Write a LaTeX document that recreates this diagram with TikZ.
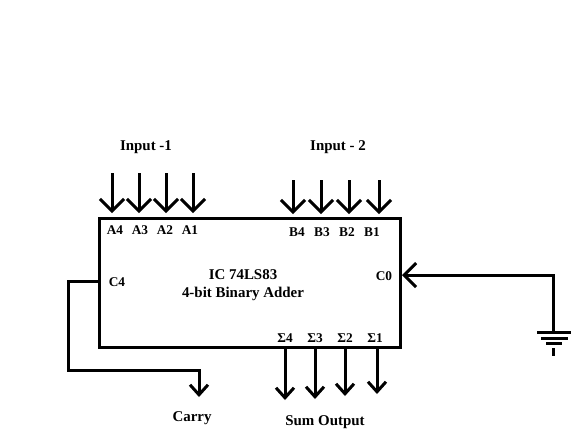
\documentclass[tikz,border=0pt]{standalone}
\usepackage{fontspec}
\setmainfont{Liberation Serif}
\usetikzlibrary{arrows.meta, positioning}
\tikzset{
  icbox/.style={
    rectangle, draw=black, line width=2.25pt, inner sep=0pt,
    minimum width=225.75pt, minimum height=96.75pt
  },
  plabel/.style={font=\fontsize{10}{11}\selectfont\bfseries, inner sep=0pt},
  tlabel/.style={font=\fontsize{11.2}{13.5}\selectfont\bfseries, inner sep=0pt, align=center},
  wire/.style={line width=2.25pt, line cap=rect},
  arr/.style={-{Straight Barb[length=9pt, width=18pt, line width=2.25pt]}, line width=2.25pt},
  sarr/.style={-{Straight Barb[length=7.5pt, width=13.5pt, line width=2.25pt]}, line width=2.25pt},
}
\begin{document}
\begin{tikzpicture}[x=0.75pt, y=-0.75pt]
    \useasboundingbox (0,0) rectangle (579,429);
    \node[icbox] (ic) at (249.5,282.5) {};
    \node[tlabel] (title) at (243,285.5) {IC 74LS83\\4-bit Binary Adder};

    \node[tlabel] (in1) at (146,147) {Input -1};
    \node[tlabel] (in2) at (338,147) {Input - 2};
    \node[tlabel] (carry) at (192,418) {Carry};
    \node[tlabel] (sum) at (325,422) {Sum Output};

    \foreach \n/\px/\lx in {A4/112/115, A3/139/140, A2/166/165, A1/193/190} {
      \node[plabel] (l\n) at (\lx,230) {\n};
      \coordinate (s\n) at (\px,173);
      \coordinate (e\n) at (\px,213);
      \draw[arr] (s\n) -- (e\n);
    }
    \foreach \n/\px/\lx in {B4/293/297, B3/321/322, B2/349/347, B1/379/372} {
      \node[plabel] (l\n) at (\lx,232) {\n};
      \coordinate (s\n) at (\px,180);
      \coordinate (e\n) at (\px,214);
      \draw[arr] (s\n) -- (e\n);
    }
    \foreach \n/\px/\lx/\py in {4/285/285/400, 3/315/315/399, 2/345/345/396, 1/377/375/394} {
      \node[plabel] (lS\n) at (\lx,338) {Σ\n};
      \coordinate (sS\n) at (\px,348);
      \coordinate (eS\n) at (\px,\py);
      \draw[sarr] (sS\n) -- (eS\n);
    }

    \node[plabel] (lc4) at (117,282) {C4};
    \node[plabel] (lc0) at (384,276) {C0};

    \coordinate (c4pin) at (99,281);
    \coordinate (c4a) at (68,281);
    \coordinate (c4b) at (68,370);
    \coordinate (c4c) at (199,370);
    \coordinate (c4end) at (199,397);
    \draw[wire] (c4pin) -- (c4a) -- (c4b) -- (c4c);
    \draw[sarr] (c4c) -- (c4end);

    \coordinate (gnd) at (553,332);
    \coordinate (c0a) at (553,275);
    \coordinate (c0end) at (402,275);
    \draw[wire] (gnd) -- (c0a);
    \draw[arr] (c0a) -- (c0end);

    \draw[line width=2.25pt] (gnd) +(-16,0) -- +(18,0);
    \draw[line width=2.25pt] (gnd) +(-12,6) -- +(15,6);
    \draw[line width=2.25pt] (gnd) +(-7,11) -- +(9,11);
    \draw[line width=2.25pt] (gnd) +(0,16) -- +(0,24);
\end{tikzpicture}
\end{document}
